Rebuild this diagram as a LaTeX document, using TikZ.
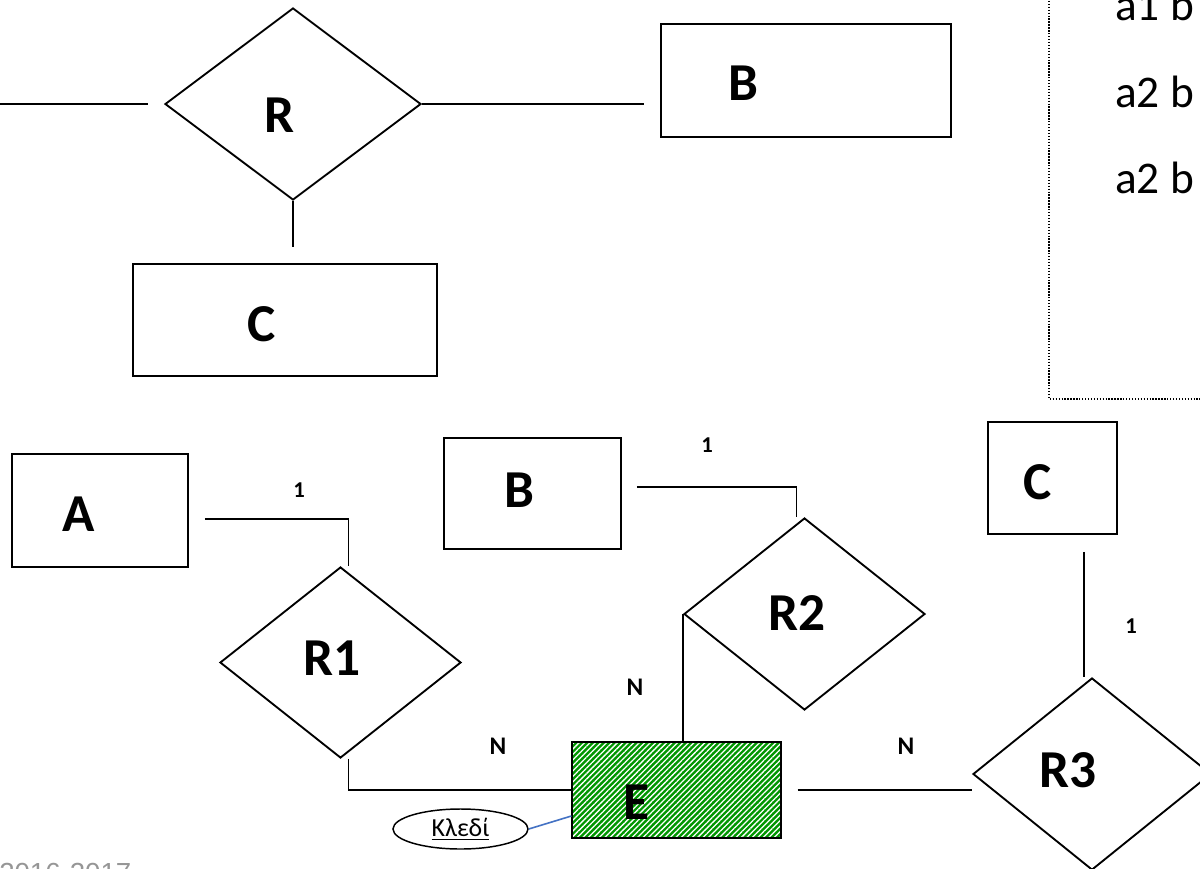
\documentclass[tikz,border=0pt]{standalone}
\usepackage{fontspec}
\setmainfont{Carlito}
\newfontfamily\footfont{Liberation Sans}
\usetikzlibrary{shapes.geometric,patterns.meta,calc}
\def\px{0.75pt}
\definecolor{hatchgreen}{RGB}{0,150,0}
\definecolor{footgray}{RGB}{150,150,150}
\definecolor{keyblue}{RGB}{68,114,196}
\tikzset{
  ent/.style={draw, line width=1.4pt, inner sep=0pt},
  rel/.style={diamond, draw, line width=1.4pt, inner sep=0pt},
  big/.style={inner sep=0pt, font=\fontsize{40}{48}\selectfont\bfseries},
  cardone/.style={inner sep=0pt, font=\fontsize{17}{20}\selectfont\bfseries},
  cardn/.style={inner sep=0pt, font=\fontsize{19}{22}\selectfont\bfseries},
  link/.style={line width=1.4pt},
  tuple/.style={anchor=base west, inner sep=0pt, font=\fontsize{34}{40}\selectfont},
}
\begin{document}
\begin{tikzpicture}[x=0.75pt, y=-0.75pt]
\useasboundingbox (0,0) rectangle (1200,868);
\clip (0,0) rectangle (1200,868);
\fill[white] (0,0) rectangle (1200,868);

% ---------- top part ----------
\node[rel, minimum width={256*\px}, minimum height={192*\px}] (R) at (293,104) {};
\node[big] (Rl) at (280,115) {R};
\node[ent, minimum width={290*\px}, minimum height={113*\px}] (Btop) at (806,80.5) {};
\node[big] (Btopl) at (743,83) {B};
\node[ent, minimum width={304*\px}, minimum height={112*\px}] (Ctop) at (285,320) {};
\node[big] (Ctopl) at (262,324) {C};

\coordinate (Redge) at (0,104);
\draw[link] (Redge) -- ($(R.west)+(-16,0)$);
\draw[link] (R.east) -- ($(R.east -| Btop.west)+(-16,0)$);
\draw[link] (R.south) -- ($(Ctop.north -| R.south)+(0,-16)$);

% dotted box with tuples
\draw[line width=1pt, dash pattern=on 1pt off 1.2pt] (1049,-5) -- (1049,399) -- (1205,399);
\node[tuple] (t1) at (1115,20) {a1 b};
\node[tuple] (t2) at (1115,107) {a2 b};
\node[tuple] (t3) at (1115,193) {a2 b};

% ---------- bottom part ----------
\node[ent, minimum width={176*\px}, minimum height={113*\px}] (A) at (100,510.5) {};
\node[big] (Al) at (79,514) {A};
\node[ent, minimum width={177*\px}, minimum height={111*\px}] (B2) at (532.5,493.5) {};
\node[big] (B2l) at (519,490) {B};
\node[ent, minimum width={129*\px}, minimum height={112*\px}] (C2) at (1052.5,478) {};
\node[big] (C2l) at (1038,482) {C};

\node[rel, minimum width={241*\px}, minimum height={191*\px}] (R1) at (340.5,662.5) {};
\node[big] (R1l) at (332,658) {R1};
\node[rel, minimum width={241*\px}, minimum height={192*\px}] (R2) at (804.5,614) {};
\node[big] (R2l) at (797,613) {R2};
\node[rel, minimum width={238*\px}, minimum height={192*\px}] (R3) at (1092,774) {};
\node[big] (R3l) at (1068,770) {R3};

\node[ent, minimum width={209*\px}, minimum height={96*\px},
      preaction={fill=hatchgreen},
      pattern={Lines[angle=45,distance=2.9pt,line width=0.95pt]}, pattern color=white] (E) at (676.5,790) {};
\node[big] (El) at (637,802) {E};

\node[ellipse, draw, line width=1.1pt, inner sep=0pt,
      minimum width={135*\px}, minimum height={40*\px},
      font=\fontsize{19.5}{22}\selectfont] (Key) at (460.5,829) {\underline{Κλεδί}};
\draw[keyblue, line width=1.2pt] (Key.east) -- ($(E.west)+(0,26)$);

% connectors
\draw[link] ($(A.east)+(16,8.5)$) -| ($(R1.north)+(8,0)$);
\draw[link] ($(R1.south)+(8,0)$) |- (E.west);
\draw[link] ($(B2.east)+(15,-6.5)$) -| ($(R2.north)+(-8,0)$);
\draw[link] (R2.west) -- (R2.west |- E.north);
\draw[link] ($(E.east)+(16,0)$) -- (R3.west |- E.east);
\draw[link] ($(C2.south)+(31.5,17)$) -- ($(R3.north)+(-8,0)$);

% cardinalities
\node[cardone] (c1) at (299,490) {1};
\node[cardone] (c2) at (707,445) {1};
\node[cardone] (c3) at (1131,626) {1};
\node[cardn] (n1) at (498,746) {N};
\node[cardn] (n2) at (635,687) {N};
\node[cardn] (n3) at (906,746) {N};

% footer
\node[anchor=base west, inner sep=0pt, text=footgray,
      font=\footfont\fontsize{20.7}{24}\selectfont] (foot) at (-1,882) {2016-2017};
\end{tikzpicture}
\end{document}
